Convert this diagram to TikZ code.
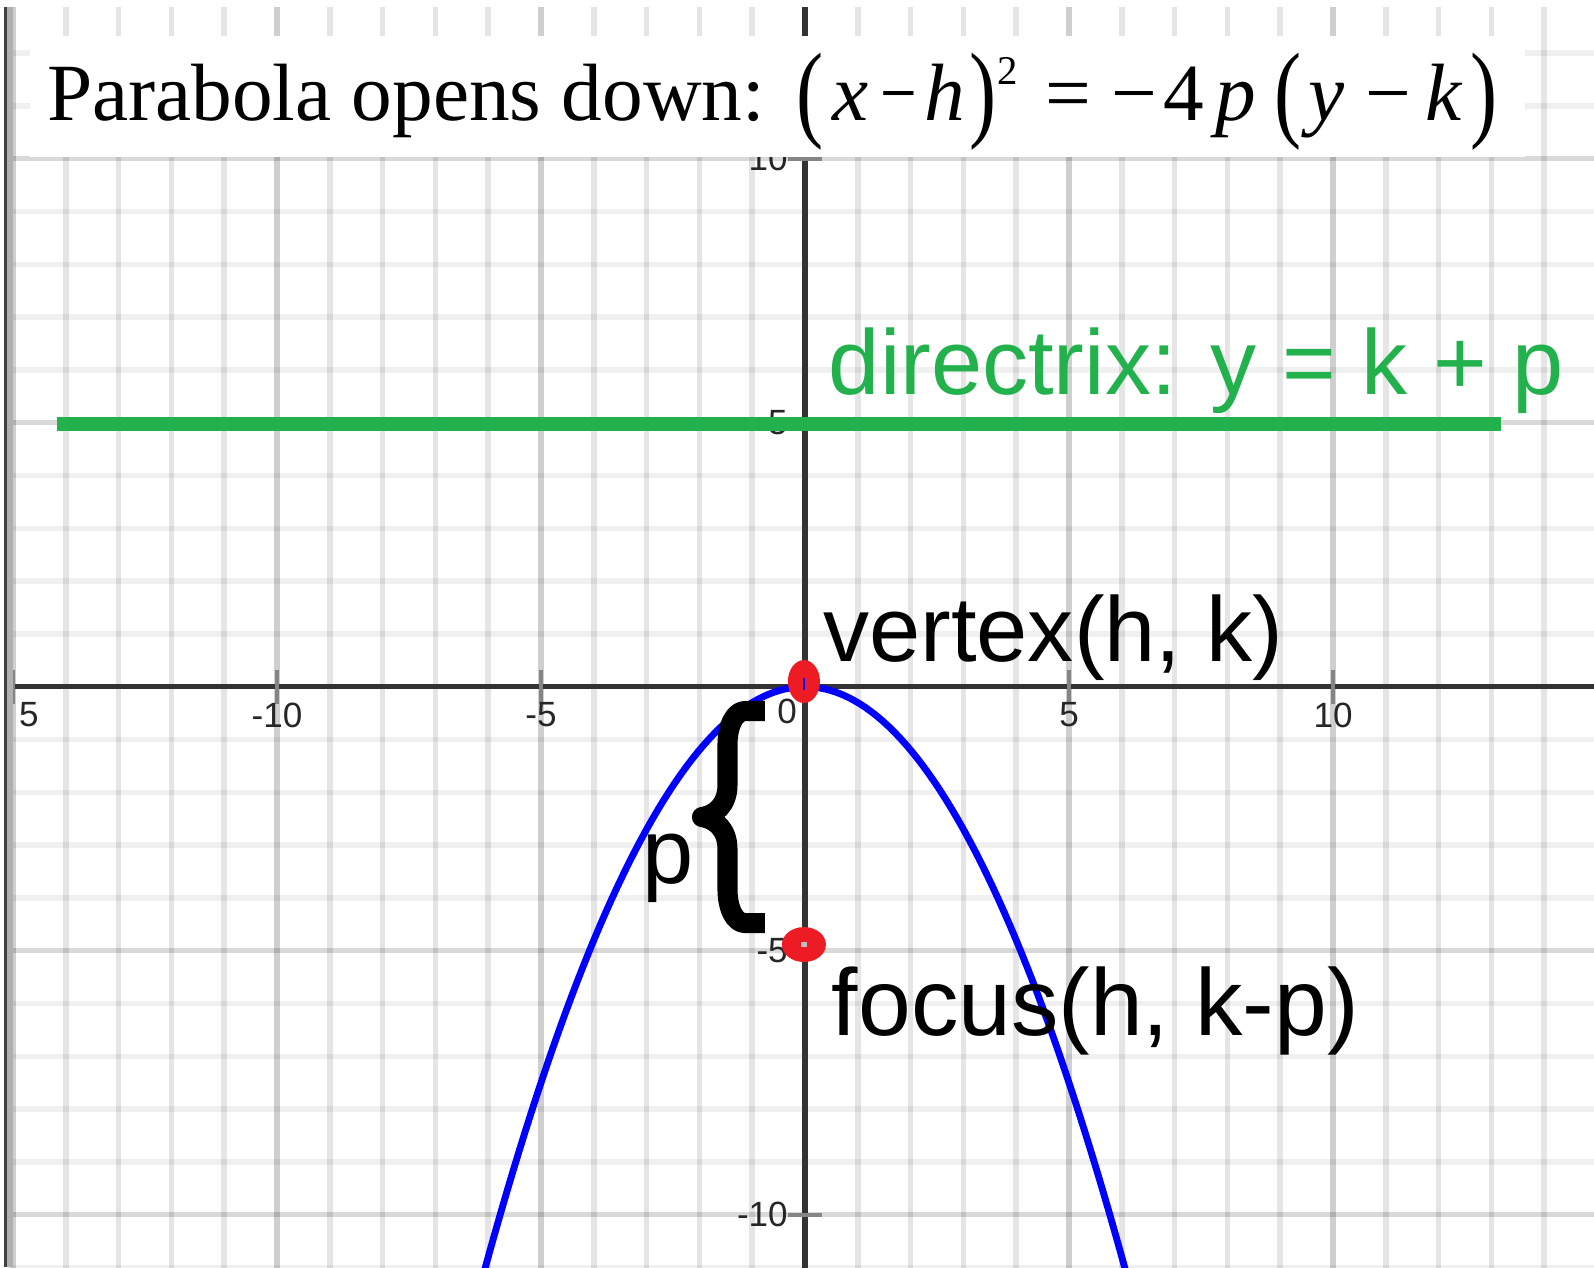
\documentclass[tikz,border=0pt]{standalone}
\usepackage{fontspec}
\setmainfont{Liberation Serif}
\newfontfamily\arialf{Liberation Sans}
\usepackage{graphicx}
\definecolor{axisgray}{HTML}{333333}
\definecolor{tickgray}{HTML}{858585}
\definecolor{dirgreen}{HTML}{22B14C}
\definecolor{dotred}{HTML}{ED1C24}
\definecolor{bordark}{HTML}{404040}
\definecolor{borlight}{HTML}{B0B0B0}
\tikzset{
  minorv/.style={draw=black, draw opacity=0.10, line width=0.104cm},
  minorh/.style={draw=black, draw opacity=0.06, line width=0.104cm},
  majorv/.style={draw=black, draw opacity=0.19, line width=0.104cm},
  majorh/.style={draw=black, draw opacity=0.15, line width=0.104cm},
  axisline/.style={draw=axisgray, line width=0.095cm},
  tickmark/.style={draw=tickgray, line width=0.08cm},
  ticklabel/.style={font=\arialf\fontsize{18.9pt}{22pt}\selectfont, text=black!85, inner sep=0pt},
  biglabel/.style={font=\arialf\fontsize{49.6pt}{56pt}\selectfont, inner sep=0pt, anchor=base west},
  ttl/.style={anchor=base west, inner sep=0pt, font=\fontsize{43.8pt}{50pt}\selectfont},
  reddot/.style={fill=dotred},
  bracestroke/.style={draw=black, line width=0.38cm, line join=round, line cap=butt},
}
\newcommand{\tparen}[1]{\raisebox{-0.09em}{\scalebox{1}[1.32]{#1}}}
\begin{document}
\begin{tikzpicture}
\useasboundingbox (-15.246,-10.991) rectangle (14.943,13.006);
\fill[white] (-15.246,-10.991) rectangle (14.943,13.006);
\begin{scope}
\clip (-15.114,-10.991) rectangle (14.943,12.873);
\foreach \x in {-14,-13,-12,-11,-9,-8,-7,-6,-4,-3,-2,-1,1,2,3,4,6,7,8,9,11,12,13,14}
  \draw[minorv] (\x,-11.5) -- (\x,13.5);
\foreach \y in {-11,-9,-8,-7,-6,-4,-3,-2,-1,1,2,3,4,6,7,8,9,11,12}
  \draw[minorh] (-16,\y) -- (15.5,\y);
\foreach \x in {-15,-10,-5,5,10} \draw[majorv] (\x,-11.5) -- (\x,13.5);
\foreach \y in {-10,-5,5,10} \draw[majorh] (-16,\y) -- (15.5,\y);
\coordinate (xl) at (-15.1,0);
\coordinate (xr) at (15.5,0);
\coordinate (yb) at (0,-11.5);
\coordinate (yt) at (0,13.5);
\draw[axisline] (xl) -- (xr);
\draw[axisline] (yb) -- (yt);
\foreach \x in {-15,-10,-5,5,10} \draw[tickmark] (\x,-0.32) -- (\x,0.32);
\foreach \y in {-10,-5,5,10} \draw[tickmark] (-0.32,\y) -- (0.32,\y);
\node[ticklabel] (xlaba) at (-14.70,-0.535) {5};
\foreach \x/\n in {-10/b,-5/c,5/d,10/e} \node[ticklabel] (xlab\n) at (\x,-0.535) {\x};
\node[ticklabel] (xlab0) at (-0.34,-0.46) {0};
\foreach \y/\n in {-10/a,-5/b,5/c,10/d} \node[ticklabel, anchor=east] (ylab\n) at (-0.32,\y) {\y};
% directrix
\coordinate (dl) at (-14.17,4.97);
\coordinate (dr) at (13.19,4.97);
\draw[draw=dirgreen, line width=0.265cm] (dl) -- (dr);
% parabola
\draw[draw=blue, line width=0.13cm] plot[domain=-6.5:6.5, samples=120] (\x, {-0.30*\x*\x});
\end{scope}
% border
\fill[bordark] (-15.17,-10.991) rectangle (-15.114,12.873);
\fill[borlight] (-15.114,-10.991) rectangle (-15.0,12.873);
% brace
\draw[bracestroke] (-0.758,-0.46) -- (-1.136,-0.46) .. controls (-1.326,-0.46) and (-1.468,-0.725) .. (-1.468,-1.104) -- (-1.468,-1.862) .. controls (-1.468,-2.241) and (-1.705,-2.430) .. (-1.951,-2.468) .. controls (-1.705,-2.506) and (-1.468,-2.695) .. (-1.468,-3.074) -- (-1.468,-3.832) .. controls (-1.468,-4.211) and (-1.326,-4.476) .. (-1.136,-4.476) -- (-0.758,-4.476);
% dots
\fill[reddot] (-0.02,0.098) ellipse [x radius=0.303, y radius=0.407];
\coordinate (bm1) at (-0.02,0.17);
\coordinate (bm2) at (-0.02,-0.06);
\draw[draw=blue, line width=0.04cm] (bm1) -- (bm2);
\fill[reddot] (-0.02,-4.883) ellipse [x radius=0.417, y radius=0.331];
\fill[black!25] (-0.075,-4.93) rectangle (0.035,-4.84);
% title box
\fill[white] (-14.68,10.03) rectangle (13.64,12.32);
\node[ttl] (t0) at (-14.36,10.733) {Parabola opens down:};
\node[ttl] (t1) at (-0.170,10.733) {\tparen{(}};
\node[ttl] (t2) at (0.511,10.733) {\textit{x}};
\node[ttl] (t3) at (1.42,10.733) {\scalebox{0.8}[1]{−}};
\node[ttl] (t4) at (2.26,10.733) {\textit{h}};
\node[ttl] (t5) at (3.10,10.733) {\tparen{)}};
\node[ttl] (t6) at (3.64,11.40) {\fontsize{22pt}{26pt}\selectfont 2};
\node[ttl] (t7) at (4.545,10.733) {=};
\node[ttl] (t8) at (5.80,10.733) {−};
\node[ttl] (t9) at (6.777,10.733) {4};
\node[ttl] (t10) at (7.765,10.733) {\textit{p}};
\node[ttl] (t11) at (8.88,10.733) {\tparen{(}};
\node[ttl] (t12) at (9.530,10.733) {\textit{y}};
\node[ttl] (t13) at (10.606,10.733) {−};
\node[ttl] (t14) at (11.742,10.733) {\textit{k}};
\node[ttl] (t15) at (12.595,10.733) {\tparen{)}};
% labels
\node[biglabel, text=dirgreen] (dirlab) at (0.445,5.536) {directrix: y = k + p};
\node[biglabel] (vlab) at (0.341,0.487) {vertex(h, k)};
\node[biglabel, font=\arialf\fontsize{51.1pt}{56pt}\selectfont] (flab) at (0.504,-6.6) {focus(h, k-p)};
\node[biglabel] (plab) at (-3.09,-3.72) {p};
\end{tikzpicture}
\end{document}
